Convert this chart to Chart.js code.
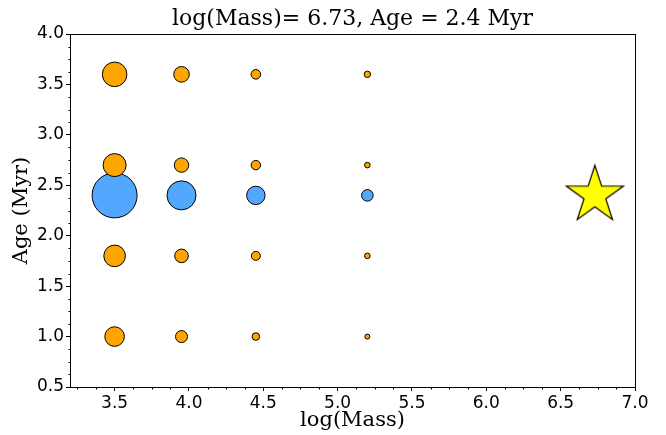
<!DOCTYPE html>
<html>
<head>
<meta charset="utf-8">
<script src="https://cdn.jsdelivr.net/npm/chart.js@4.4.0/dist/chart.umd.min.js"></script>
<style>
  html, body { margin: 0; padding: 0; background: #fff; }
</style>
</head>
<body>
<canvas id="chart" width="666" height="435"></canvas>
<script>
// model grid
var massValues = [3.5, 3.95, 4.45, 5.2];
var orangeAges = [1.0, 1.8, 2.7, 3.6];
var orangeSizes = [
  [9.8, 6.0, 3.8, 2.5],   // age 1.0
  [10.8, 6.8, 4.5, 2.8],  // age 1.8
  [11.5, 7.2, 4.7, 2.8],  // age 2.7
  [12.3, 7.8, 4.8, 3.2]   // age 3.6
];
var blueAge = 2.4;
var blueSizes = [22.5, 14.5, 9.2, 5.8];

// the target cluster
var starMass = 6.73;
var starAge = 2.4;

var massTicks = [3.5, 4.0, 4.5, 5.0, 5.5, 6.0, 6.5, 7.0];
var ageTicks = [0.5, 1.0, 1.5, 2.0, 2.5, 3.0, 3.5, 4.0];
var minorStep = 0.125;

// build datasets
var orangePts = [];
orangeAges.forEach(function(age, i) {
  massValues.forEach(function(m, j) {
    orangePts.push({x: m, y: age, r: orangeSizes[i][j]});
  });
});
var bluePts = massValues.map(function(m, j) {
  return {x: m, y: blueAge, r: blueSizes[j]};
});

// star marker (5 points, like matplotlib '*')
function makeStar(R) {
  var s = Math.ceil(R * 2 + 4);
  var c = document.createElement('canvas');
  c.width = s; c.height = s;
  var g = c.getContext('2d');
  var cx = s / 2, cy = s / 2, rin = R * 0.382;
  g.beginPath();
  for (var k = 0; k < 10; k++) {
    var rad = (k % 2 === 0) ? R : rin;
    var ang = -Math.PI / 2 + k * Math.PI / 5;
    var px = cx + rad * Math.cos(ang), py = cy + rad * Math.sin(ang);
    if (k === 0) g.moveTo(px, py); else g.lineTo(px, py);
  }
  g.closePath();
  g.fillStyle = '#ffff00';
  g.fill();
  g.lineWidth = 1.2;
  g.strokeStyle = '#000';
  g.lineJoin = 'miter';
  g.stroke();
  return c;
}
var starImg = makeStar(30);

//frame + minor ticks
var framePlugin = {
  id: 'frame',
  afterDraw: function(chart) {
    var c = chart.ctx, a = chart.chartArea;
    var xs = chart.scales.x, ys = chart.scales.y;
    c.save();
    c.strokeStyle = '#000';
    c.lineWidth = 1;
    c.beginPath();
    var v, p;
    for (v = Math.ceil(xs.min / minorStep) * minorStep; v <= xs.max + 1e-9; v += minorStep) {
      if (Math.abs(v / 0.5 - Math.round(v / 0.5)) < 1e-6) continue;
      p = Math.round(xs.getPixelForValue(v)) + 0.5;
      c.moveTo(p, Math.round(a.bottom) + 0.5);
      c.lineTo(p, Math.round(a.bottom) + 2.5);
    }
    for (v = Math.ceil(ys.min / minorStep) * minorStep; v <= ys.max + 1e-9; v += minorStep) {
      if (Math.abs(v / 0.5 - Math.round(v / 0.5)) < 1e-6) continue;
      p = Math.round(ys.getPixelForValue(v)) + 0.5;
      c.moveTo(Math.round(a.left) + 0.5, p);
      c.lineTo(Math.round(a.left) - 1.5, p);
    }
    c.stroke();
    c.strokeRect(Math.round(a.left) + 0.5, Math.round(a.top) + 0.5,
      Math.round(a.right - a.left), Math.round(a.bottom - a.top));
    c.restore();
  }
};

var tickFont = {family: 'DejaVu Sans', size: 17};
var labelFont = {family: 'DejaVu Serif', size: 21};

new Chart(document.getElementById('chart'), {
  type: 'bubble',
  data: {
    datasets: [
      {data: orangePts, backgroundColor: '#ffa500', borderColor: '#000', borderWidth: 1},
      {data: bluePts, backgroundColor: '#52a8ff', borderColor: '#000', borderWidth: 1},
      {data: [{x: starMass, y: starAge, r: 30}], pointStyle: starImg, backgroundColor: '#ffff00', borderColor: '#000', borderWidth: 1}
    ]
  },
  options: {
    responsive: false,
    animation: false,
    layout: {padding: {left: 0, right: 28, top: 0, bottom: 0}},
    plugins: {
      legend: {display: false},
      tooltip: {enabled: false},
      title: {
        display: true,
        fullSize: false,
        text: 'log(Mass)= 6.73, Age = 2.4 Myr',
        color: '#000',
        font: {family: 'DejaVu Serif', size: 22, weight: 'normal'},
        padding: {top: 6, bottom: 1.6}
      }
    },
    scales: {
      x: {
        type: 'linear',
        min: 3.2,
        max: 7.0,
        afterBuildTicks: function(s) { s.ticks = massTicks.map(function(v) { return {value: v}; }); },
        afterFit: function(s) { s.height = 48; },
        ticks: {color: '#000', font: tickFont, padding: 2, maxRotation: 0,
          callback: function(v) { return v.toFixed(1); }},
        grid: {drawOnChartArea: false, drawTicks: true, tickLength: 4, tickColor: '#000'},
        border: {display: true, color: '#000'},
        title: {display: true, text: 'log(Mass)', color: '#000', font: labelFont, padding: {top: 0, bottom: 2}}
      },
      y: {
        type: 'linear',
        min: 0.5,
        max: 4.0,
        afterBuildTicks: function(s) { s.ticks = ageTicks.map(function(v) { return {value: v}; }); },
        afterFit: function(s) { s.width = 70; },
        ticks: {color: '#000', font: tickFont, padding: 2,
          callback: function(v) { return v.toFixed(1); }},
        grid: {drawOnChartArea: false, drawTicks: true, tickLength: 4, tickColor: '#000'},
        border: {display: true, color: '#000'},
        title: {display: true, text: 'Age (Myr)', color: '#000', font: labelFont, padding: {top: 9, bottom: 0}}
      }
    }
  },
  plugins: [framePlugin]
});
</script>
</body>
</html>
